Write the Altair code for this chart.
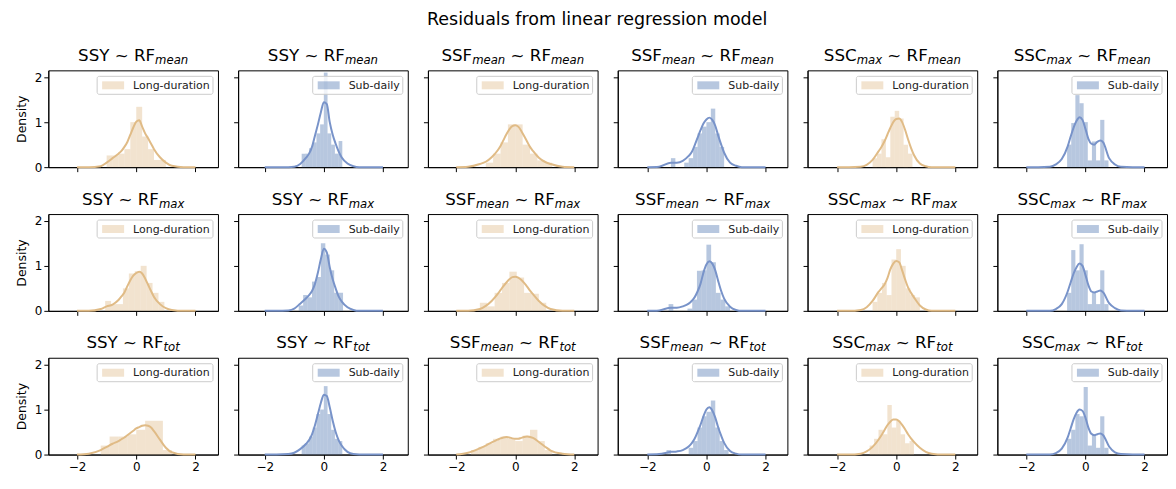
import altair as alt
import pandas as pd

FONT = "DejaVu Sans"
TITLE = "Residuals from linear regression model"
ROW_RF = ["mean", "max", "tot"]
COL_RESP = ["SSY", "SSY", "SSF", "SSF", "SSC", "SSC"]
COL_RESP_SUB = ["", "", "mean", "mean", "max", "max"]
COL_KIND = ["Long-duration", "Sub-daily", "Long-duration", "Sub-daily", "Long-duration", "Sub-daily"]

# KDE curve sample positions (x) shared by all panels
KDE_X = [-2.0, -1.6, -1.2, -1.0, -0.8, -0.6, -0.5, -0.4, -0.3, -0.2, -0.1, 0.0,
         0.1, 0.2, 0.3, 0.4, 0.5, 0.6, 0.8, 1.0, 1.2, 1.6, 2.0]

kde_r1c1 = [0, 0, 0.02, 0.10, 0.20, 0.30, 0.36, 0.45, 0.56, 0.72, 0.88, 1.01, 1.04, 0.90, 0.75, 0.64, 0.52, 0.40, 0.22, 0.10, 0.03, 0, 0]
kde_r1c2 = [0, 0, 0, 0.01, 0.07, 0.21, 0.30, 0.45, 0.70, 0.95, 1.22, 1.44, 1.40, 1.00, 0.72, 0.52, 0.35, 0.22, 0.08, 0.02, 0, 0, 0]
kde_r1c3 = [0, 0.01, 0.07, 0.12, 0.22, 0.37, 0.47, 0.60, 0.73, 0.84, 0.91, 0.93, 0.90, 0.81, 0.69, 0.57, 0.45, 0.36, 0.21, 0.12, 0.07, 0.01, 0]
kde_r1c4 = [0, 0.01, 0.10, 0.10, 0.14, 0.25, 0.33, 0.48, 0.65, 0.82, 0.97, 1.06, 1.10, 1.05, 0.92, 0.70, 0.50, 0.32, 0.10, 0.03, 0, 0, 0]
kde_r1c5 = [0, 0, 0.01, 0.05, 0.16, 0.35, 0.45, 0.57, 0.72, 0.87, 1.00, 1.07, 1.08, 1.00, 0.83, 0.62, 0.43, 0.27, 0.08, 0.02, 0, 0, 0]
kde_r1c6 = [0, 0, 0.01, 0.06, 0.18, 0.46, 0.68, 0.88, 1.03, 1.11, 1.05, 0.85, 0.63, 0.52, 0.50, 0.56, 0.59, 0.55, 0.20, 0.06, 0.01, 0, 0]
kde_r2c1 = [0, 0, 0.04, 0.10, 0.14, 0.24, 0.32, 0.41, 0.55, 0.68, 0.78, 0.84, 0.87, 0.83, 0.72, 0.58, 0.44, 0.31, 0.15, 0.06, 0.02, 0, 0]
kde_r2c2 = [0, 0, 0.01, 0.05, 0.16, 0.28, 0.35, 0.44, 0.60, 0.85, 1.15, 1.38, 1.30, 0.97, 0.70, 0.50, 0.32, 0.21, 0.08, 0.02, 0, 0, 0]
kde_r2c3 = [0, 0, 0.04, 0.11, 0.22, 0.37, 0.46, 0.55, 0.63, 0.70, 0.75, 0.76, 0.74, 0.69, 0.62, 0.54, 0.45, 0.37, 0.22, 0.11, 0.04, 0, 0]
kde_r2c4 = [0, 0.01, 0.07, 0.07, 0.10, 0.16, 0.22, 0.30, 0.43, 0.60, 0.85, 1.03, 1.10, 1.05, 0.90, 0.66, 0.44, 0.27, 0.09, 0.02, 0, 0, 0]
kde_r2c5 = [0, 0, 0.02, 0.08, 0.22, 0.42, 0.50, 0.58, 0.72, 0.92, 1.05, 1.11, 1.08, 0.90, 0.70, 0.52, 0.40, 0.30, 0.12, 0.03, 0, 0, 0]
kde_r2c6 = [0, 0, 0, 0.04, 0.15, 0.43, 0.63, 0.83, 0.97, 1.05, 1.00, 0.80, 0.57, 0.43, 0.41, 0.43, 0.45, 0.41, 0.17, 0.06, 0.01, 0, 0]
kde_r3c1 = [0, 0.02, 0.10, 0.17, 0.24, 0.30, 0.34, 0.38, 0.43, 0.48, 0.53, 0.58, 0.61, 0.64, 0.65, 0.64, 0.60, 0.52, 0.33, 0.15, 0.05, 0, 0]
kde_r3c2 = [0, 0, 0.01, 0.04, 0.12, 0.24, 0.32, 0.45, 0.65, 0.90, 1.15, 1.33, 1.30, 1.05, 0.75, 0.50, 0.32, 0.20, 0.06, 0.01, 0, 0, 0]
kde_r3c3 = [0, 0.04, 0.14, 0.20, 0.27, 0.33, 0.36, 0.38, 0.39, 0.38, 0.36, 0.35, 0.35, 0.37, 0.39, 0.40, 0.39, 0.37, 0.28, 0.18, 0.09, 0.02, 0]
kde_r3c4 = [0, 0.01, 0.06, 0.07, 0.10, 0.18, 0.25, 0.35, 0.50, 0.66, 0.85, 1.00, 1.05, 0.98, 0.82, 0.60, 0.42, 0.26, 0.08, 0.02, 0, 0, 0]
kde_r3c5 = [0, 0, 0.02, 0.07, 0.17, 0.33, 0.43, 0.54, 0.65, 0.73, 0.78, 0.78, 0.74, 0.66, 0.56, 0.45, 0.36, 0.28, 0.15, 0.06, 0.02, 0, 0]
kde_r3c6 = [0, 0, 0, 0.03, 0.13, 0.38, 0.58, 0.78, 0.93, 1.00, 0.97, 0.82, 0.60, 0.46, 0.43, 0.45, 0.47, 0.43, 0.18, 0.05, 0.01, 0, 0]

# Histogram: first bin edge, bin width, and bar heights (density)
HIST_START = [[-1.0, -0.75, -1.0, -1.2, -0.8, -0.62],
              [-1.05, -0.85, -1.2, -1.28, -0.8, -0.62],
              [-1.2, -0.75, -1.5, -1.35, -0.9, -0.62]]
HIST_WIDTH = [[0.2, 0.125, 0.25, 0.15, 0.15, 0.14],
              [0.2, 0.15, 0.25, 0.16, 0.16, 0.14],
              [0.3, 0.125, 0.25, 0.15, 0.15, 0.14]]
hist_r1c1 = [0.26, 0.26, 0.30, 0.40, 1.00, 1.34, 0.68, 0.40, 0.16, 0.16]
hist_r1c2 = [0.30, 0.30, 0.42, 0.55, 0.75, 0.95, 2.10, 0.75, 0.50, 0.30, 0.58]
hist_r1c3 = [0.10, 0.30, 0.55, 0.95, 0.95, 0.50, 0.30, 0.15, 0.10]
hist_r1c4 = [0.20, 0, 0, 0.10, 0.20, 0.45, 0.75, 0.90, 1.00, 1.30, 0.75, 0.45]
hist_r1c5 = [0.20, 0.30, 0.62, 0.22, 1.12, 1.25, 1.08, 0.50, 0.30]
hist_r1c6 = [0.50, 0.98, 1.60, 1.42, 1.00, 0.15, 0.57, 0.15, 1.05, 0.15]
hist_r2c1 = [0.22, 0.15, 0.15, 0.50, 0.83, 0.88, 1.00, 0.62, 0.40, 0.20]
hist_r2c2 = [0.12, 0.35, 0.30, 0.65, 0.75, 1.50, 1.25, 0.90, 0.40, 0.40]
hist_r2c3 = [0.18, 0.10, 0.40, 0.62, 0.87, 0.74, 0.40, 0.38, 0.18]
hist_r2c4 = [0.15, 0, 0, 0, 0.05, 0.25, 0.89, 0.90, 1.47, 1.08, 0.40, 0.25, 0.10]
hist_r2c5 = [0.20, 0.40, 0.62, 0.35, 1.14, 1.37, 1.00, 0.50, 0.35, 0.30]
hist_r2c6 = [0.40, 1.35, 0.90, 1.48, 0.90, 0.15, 0.40, 0.15, 0.90, 0.15]
hist_r3c1 = [0.20, 0.40, 0.40, 0.45, 0.55, 0.75, 0.75, 0.10]
hist_r3c2 = [0.20, 0.25, 0.40, 0.60, 0.90, 1.00, 1.52, 0.90, 0.55, 0.35, 0.30]
hist_r3c3 = [0.10, 0.17, 0.25, 0.35, 0.40, 0.35, 0.30, 0.42, 0.55, 0.30, 0.10]
hist_r3c4 = [0.10, 0, 0, 0, 0, 0.15, 0.30, 0.60, 0.85, 0.95, 1.20, 0.60, 0.30, 0.10]
hist_r3c5 = [0.20, 0.35, 0.55, 0.45, 1.10, 0.60, 0.75, 0.45, 0.25, 0.30]
hist_r3c6 = [0.35, 0.55, 0.90, 0.85, 1.50, 0.20, 0.45, 0.15, 0.85, 0.15]

KDES = [[kde_r1c1, kde_r1c2, kde_r1c3, kde_r1c4, kde_r1c5, kde_r1c6],
        [kde_r2c1, kde_r2c2, kde_r2c3, kde_r2c4, kde_r2c5, kde_r2c6],
        [kde_r3c1, kde_r3c2, kde_r3c3, kde_r3c4, kde_r3c5, kde_r3c6]]
HISTS = [[hist_r1c1, hist_r1c2, hist_r1c3, hist_r1c4, hist_r1c5, hist_r1c6],
         [hist_r2c1, hist_r2c2, hist_r2c3, hist_r2c4, hist_r2c5, hist_r2c6],
         [hist_r3c1, hist_r3c2, hist_r3c3, hist_r3c4, hist_r3c5, hist_r3c6]]

# x-axis limits per column (matplotlib autoscale)
XMIN = [-2.97, -2.9, -2.96, -3.0, -3.0, -2.98]
XMAX = [2.76, 2.84, 2.79, 2.74, 2.74, 2.76]

BAR_COLOR = {"Long-duration": "#deb887", "Sub-daily": "#4c72b0"}
LINE_COLOR = {"Long-duration": "#e0bb86", "Sub-daily": "#7893c9"}

PW, PH = 170, 97
MAIN_FS, SUB_FS, LEG_FS = 16.7, 11.7, 11

GLYPH_W = {"S": 1300, "Y": 1251, "F": 1178, "C": 1430, "R": 1423, " ": 651, "~": 1716,
           "m": 1995, "e": 1260, "a": 1255, "n": 1298, "x": 1212, "t": 803, "o": 1253,
           "L": 1141, "g": 1300, "-": 739, "d": 1300, "u": 1298, "r": 842, "i": 569,
           "b": 1300, "l": 569, "y": 1212}


def tw(s, size):
    return sum(GLYPH_W.get(ch, 1250) for ch in s) / 2048.0 * size


ONE = pd.DataFrame({"k": [0]})


def panel(r, c):
    kind = COL_KIND[c]
    start, width = HIST_START[r][c], HIST_WIDTH[r][c]
    rows = []
    for i, h in enumerate(HISTS[r][c]):
        if h > 0:
            rows.append({"x": start + i * width, "x2": start + (i + 1) * width, "y": h})
    bars_df = pd.DataFrame(rows)
    kde_df = pd.DataFrame({"x": KDE_X, "y": KDES[r][c]})

    xs = alt.Scale(domain=[XMIN[c], XMAX[c]], nice=False, zero=False)
    ys = alt.Scale(domain=[0, 2.15], nice=False, zero=False)
    xa = alt.Axis(values=[-2, 0, 2], labels=(r == 2), title=None, format="d")
    if c == 0:
        ya = alt.Axis(values=[0, 1, 2], labels=True, title="Density", format="d")
    else:
        ya = alt.Axis(values=[0, 1, 2], labels=False, title=None)

    bars = alt.Chart(bars_df).mark_rect(color=BAR_COLOR[kind], opacity=0.4).encode(
        x=alt.X("x:Q", scale=xs, axis=xa), x2="x2:Q",
        y=alt.Y("y:Q", scale=ys, axis=ya), y2=alt.datum(0))
    kde = alt.Chart(kde_df).mark_line(color=LINE_COLOR[kind], strokeWidth=2,
                                      interpolate="monotone").encode(
        x=alt.X("x:Q", scale=xs, axis=xa), y=alt.Y("y:Q", scale=ys, axis=ya))

    # legend (upper right)
    twid = tw(kind, LEG_FS)
    tx = PW - 8 - twid
    px2 = tx - 9
    px1 = px2 - 22
    bx1 = px1 - 5
    box = alt.Chart(ONE).mark_rect(fill="white", fillOpacity=0.8, stroke="#cccccc",
                                   strokeWidth=1, cornerRadius=2).encode(
        x=alt.value(bx1), x2=alt.value(PW - 5), y=alt.value(6), y2=alt.value(24))
    patch = alt.Chart(ONE).mark_rect(color=BAR_COLOR[kind], opacity=0.4).encode(
        x=alt.value(px1), x2=alt.value(px2), y=alt.value(11), y2=alt.value(19))
    ltxt = alt.Chart(ONE).mark_text(text=kind, align="left", baseline="middle",
                                    fontSize=LEG_FS, font=FONT, color="#222222").encode(
        x=alt.value(tx), y=alt.value(15.5))

    # panel title with italic subscripts
    if COL_RESP_SUB[c]:
        segs = [(COL_RESP[c], False), (COL_RESP_SUB[c], True), (" ~ RF", False), (ROW_RF[r], True)]
    else:
        segs = [(COL_RESP[c] + " ~ RF", False), (ROW_RF[r], True)]
    widths = [tw(s, SUB_FS if sub else MAIN_FS) for s, sub in segs]
    x0 = PW / 2 - sum(widths) / 2
    tlayers = []
    for (s, sub), w in zip(segs, widths):
        size = SUB_FS if sub else MAIN_FS
        lead = len(s) - len(s.lstrip())
        xpos = x0 + tw(s[:lead], size)
        tlayers.append(alt.Chart(ONE).mark_text(
            text=s.strip(), align="left", baseline="alphabetic", fontSize=size, font=FONT,
            fontStyle="italic" if sub else "normal", color="black").encode(
            x=alt.value(xpos), y=alt.value(-6.5 if sub else -9.5)))
        x0 += w

    return alt.layer(bars, kde, box, patch, ltxt, *tlayers).properties(width=PW, height=PH)


panels = [panel(r, c) for r in range(3) for c in range(6)]

chart = alt.concat(
    *panels, columns=6, spacing={"row": 47, "column": 20.2}, bounds="flush",
    title=alt.TitleParams(TITLE, fontSize=17.5, font=FONT, fontWeight="normal",
                          color="black", anchor="middle", offset=18.5, dx=6),
).properties(
    padding={"left": 6.4, "top": 3, "right": 0, "bottom": 0}
).configure_view(
    stroke="black", strokeWidth=1
).configure_axis(
    domain=True, domainColor="black", domainWidth=1, grid=False,
    ticks=True, tickColor="black", tickSize=4.5, tickWidth=1,
    labelFont=FONT, labelFontSize=12, labelColor="black", labelPadding=2,
    titleFont=FONT, titleFontSize=12.5, titleFontWeight="normal", titleColor="black",
    titlePadding=6, zindex=1
)

chart.save("out.html", embed_options={"renderer": "svg", "actions": False})
